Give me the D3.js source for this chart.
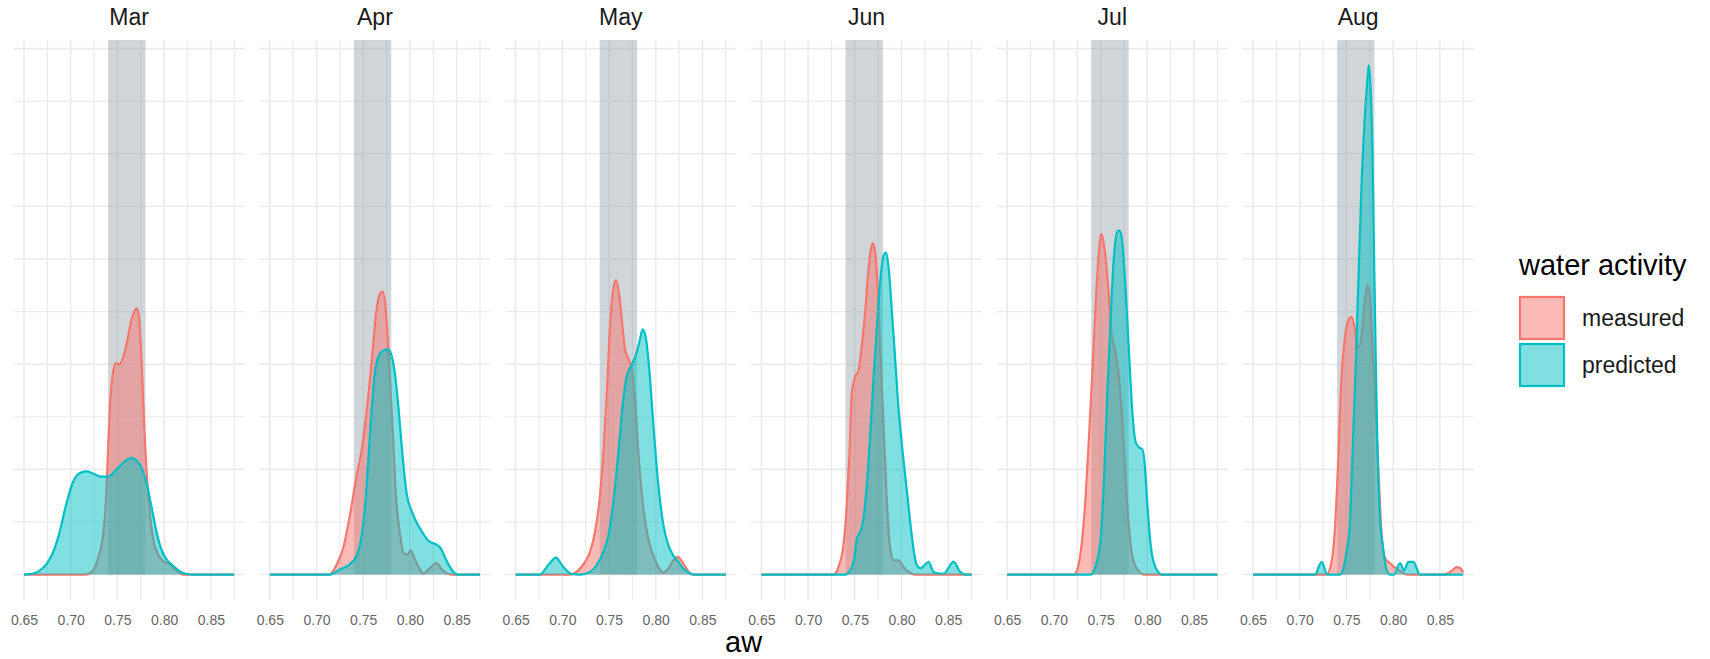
<!DOCTYPE html>
<html>
<head>
<meta charset="utf-8">
<script src="https://cdn.jsdelivr.net/npm/d3@7/dist/d3.min.js"></script>
<style>
  body { margin: 0; background: #fff; }
  text { font-family: "Liberation Sans", Arial, sans-serif; }
  .axis-x .domain, .axis-x line { display: none; }
  .axis-x text { fill: #666666; font-size: 14px; font-family: "Liberation Sans", Arial, sans-serif; }
</style>
</head>
<body>
<svg id="wrapper" width="1710" height="659"></svg>
<script>
/*jshint esversion: 6 */

const months = ['Mar', 'Apr', 'May', 'Jun', 'Jul', 'Aug'];
const seriesNames = ['measured', 'predicted'];
const seriesColors = ['#F8766D', '#00BFC4'];
const awRange = [0.65, 0.875];
const awTicks = [0.65, 0.70, 0.75, 0.80, 0.85];
const awMinorTicks = [0.675, 0.725, 0.775, 0.825, 0.875];
const densityGrid = [0, 5, 10, 15, 20, 25, 30, 35, 40, 45, 50];
const targetBand = [0.74, 0.78];

// density curves: [aw, density]
const marMeasured = [[0.65,0],[0.716,0],[0.724,0.4],[0.730,1.8],[0.735,4],[0.738,7.5],[0.740,12],[0.742,16],[0.745,19],[0.748,20.1],[0.752,20],[0.756,20.6],[0.760,22],[0.765,24.2],[0.7705,25.3],[0.773,24.5],[0.776,20],[0.779,13.5],[0.783,7.5],[0.788,3.5],[0.795,1.7],[0.800,1.2],[0.806,1.0],[0.812,0.5],[0.820,0],[0.875,0]];
const marPredicted = [[0.65,0],[0.66,0.1],[0.667,0.4],[0.674,1.0],[0.681,2.1],[0.688,4.0],[0.695,6.6],[0.702,8.7],[0.709,9.6],[0.717,9.8],[0.724,9.6],[0.733,9.3],[0.740,9.3],[0.748,9.9],[0.757,10.7],[0.765,11.1],[0.771,10.8],[0.777,9.9],[0.782,8.4],[0.787,6.2],[0.792,4.0],[0.797,2.4],[0.803,1.4],[0.810,0.8],[0.816,0.35],[0.822,0.1],[0.830,0],[0.875,0]];
const aprMeasured = [[0.65,0],[0.714,0],[0.7218,1.0],[0.7285,2.5],[0.7355,5.5],[0.7425,9.2],[0.7486,12],[0.754,15.8],[0.759,20.2],[0.764,25],[0.7675,26.6],[0.771,26.9],[0.7746,24.7],[0.778,19.6],[0.7818,13.2],[0.785,7.5],[0.7896,3.7],[0.7935,2.0],[0.7975,1.9],[0.8008,2.3],[0.805,1.5],[0.810,0.6],[0.8144,0.1],[0.820,0.5],[0.8287,1.1],[0.834,0.5],[0.8394,0.1],[0.845,0],[0.875,0]];
const aprPredicted = [[0.65,0],[0.714,0],[0.7252,0.5],[0.7359,1.0],[0.743,1.8],[0.748,3.5],[0.752,6.5],[0.7555,11],[0.7585,15],[0.762,18.8],[0.767,20.9],[0.7717,21.3],[0.7765,21.4],[0.7807,20.7],[0.7842,18.9],[0.7878,15.8],[0.7914,12],[0.7967,7.6],[0.802,6.0],[0.8075,4.9],[0.8128,4.1],[0.820,3.2],[0.827,2.9],[0.8325,2.55],[0.8378,1.6],[0.843,0.7],[0.8485,0.1],[0.852,0],[0.875,0]];
const mayMeasured = [[0.65,0],[0.708,0],[0.717,0.4],[0.7243,1.2],[0.7296,2.15],[0.735,4.05],[0.7396,6.9],[0.744,11.6],[0.7475,17],[0.751,23.4],[0.7546,27.2],[0.7575,28],[0.761,26.5],[0.7646,23.4],[0.767,21.5],[0.7707,20.5],[0.7742,19.6],[0.778,16.4],[0.7814,11.6],[0.7868,6.3],[0.792,3.4],[0.7975,1.8],[0.8028,0.73],[0.808,0.2],[0.8135,0.57],[0.819,1.36],[0.8235,1.68],[0.8296,1.04],[0.835,0.3],[0.8403,0],[0.875,0]];
const mayPredicted = [[0.65,0],[0.676,0],[0.685,0.9],[0.6932,1.6],[0.701,0.73],[0.710,0.06],[0.719,0],[0.7296,0.25],[0.7368,0.9],[0.744,2.15],[0.7493,3.7],[0.7546,6.9],[0.760,11.6],[0.7646,16.1],[0.769,18.9],[0.7742,19.9],[0.7796,21.1],[0.7832,22.4],[0.786,23.3],[0.7896,22.4],[0.793,19.6],[0.7975,14.2],[0.8028,8.5],[0.8082,4.7],[0.8135,2.8],[0.8189,1.8],[0.8243,1.2],[0.8296,0.57],[0.835,0.2],[0.8403,0],[0.875,0]];
const junMeasured = [[0.65,0],[0.727,0],[0.7325,0.73],[0.7378,2.8],[0.7414,6.6],[0.7443,11.6],[0.7468,17.3],[0.7503,18.8],[0.7539,19.4],[0.7575,21.8],[0.761,24.9],[0.7646,29],[0.7671,30.9],[0.7692,31.5],[0.7718,30.6],[0.7743,27.5],[0.7771,21.8],[0.7807,14.2],[0.7843,6.9],[0.7878,2.5],[0.7914,1.36],[0.7967,1.36],[0.8021,0.73],[0.8075,0.25],[0.8146,0],[0.875,0]];
const junPredicted = [[0.65,0],[0.7396,0],[0.745,0.4],[0.7493,1.5],[0.7521,3.4],[0.7557,4.05],[0.7593,5.3],[0.7628,8.5],[0.7664,13.2],[0.770,18.6],[0.7735,23.4],[0.7771,27.8],[0.7807,30.3],[0.7835,30.6],[0.7864,29],[0.7893,25.5],[0.7928,21],[0.7964,16.2],[0.8014,11.5],[0.8064,7.4],[0.8111,3.6],[0.8139,1.8],[0.8164,0.9],[0.8207,0.6],[0.8235,0.8],[0.8289,1.2],[0.8343,0.25],[0.8396,0.1],[0.845,0.1],[0.8557,1.2],[0.8628,0.25],[0.868,0],[0.875,0]];
const julMeasured = [[0.65,0],[0.7214,0],[0.7268,1.1],[0.7304,3.5],[0.734,7.5],[0.7375,13],[0.741,19],[0.7446,25.5],[0.748,30.5],[0.7507,32.4],[0.7543,30.9],[0.7579,27.6],[0.7614,23.1],[0.7661,21.1],[0.7696,18.8],[0.7732,14.6],[0.7768,9.0],[0.7804,4.4],[0.7839,1.8],[0.7893,0.5],[0.7964,0],[0.875,0]];
const julPredicted = [[0.65,0],[0.7393,0],[0.7446,0.8],[0.750,3.4],[0.7536,9.0],[0.7571,17.2],[0.7607,24.4],[0.7643,30.3],[0.7679,32.6],[0.7704,32.7],[0.7732,31.6],[0.7768,27],[0.7804,21.1],[0.7839,15.5],[0.7875,12.6],[0.791,12.1],[0.7946,11.9],[0.7971,10.6],[0.800,6.7],[0.8036,2.8],[0.8089,0.65],[0.816,0],[0.875,0]];
const augMeasured = [[0.65,0],[0.7286,0],[0.734,1.15],[0.7375,4.1],[0.7411,10.6],[0.7446,18.5],[0.7482,22.4],[0.7518,24.1],[0.7554,24.5],[0.7589,23.4],[0.7625,21.5],[0.766,22.5],[0.7695,25.8],[0.7725,27.5],[0.7752,26.5],[0.7768,23.7],[0.7804,17.2],[0.7839,10.6],[0.7875,4.1],[0.791,1.6],[0.7964,1.1],[0.803,0.6],[0.810,0.2],[0.815,0],[0.855,0],[0.862,0.3],[0.868,0.7],[0.872,0.6],[0.875,0.2]];
const augPredicted = [[0.65,0],[0.7163,0],[0.7235,1.2],[0.7295,0],[0.743,0],[0.747,0.7],[0.7505,2.4],[0.7535,4.5],[0.7555,9],[0.7589,17.2],[0.7625,27],[0.7661,36.8],[0.7696,43.4],[0.7721,46.6],[0.7739,48.4],[0.7757,46.6],[0.7779,40.1],[0.7796,30.3],[0.7814,20.5],[0.7832,12.3],[0.7857,5.7],[0.7893,2.5],[0.7929,0.5],[0.7964,0],[0.801,0],[0.8074,1.1],[0.8117,0.4],[0.8163,1.2],[0.8216,1.2],[0.8288,0],[0.875,0]];

const measured = [marMeasured, aprMeasured, mayMeasured, junMeasured, julMeasured, augMeasured];
const predicted = [marPredicted, aprPredicted, mayPredicted, junPredicted, julPredicted, augPredicted];

const margin = {top: 40, left: 13.5, bottom: 59};
const panelWidth = 231.2, panelStep = 245.8;
const panelBottom = 659 - margin.bottom;

function facets() {

    let svg = d3.select('#wrapper');

    svg.append('rect')
      .attr('width', 1710)
      .attr('height', 659)
      .attr('fill', 'white');

    // shared y scale, 5% expansion like ggplot
    let yMax = d3.max(measured.concat(predicted), function(s) {
      return d3.max(s, function(d) { return d[1]; });
    });
    let y = d3.scaleLinear()
      .domain([-0.05 * yMax, 1.05 * yMax])
      .range([panelBottom, margin.top]);

    let span = awRange[1] - awRange[0];

    months.forEach(function(month, i) {

      let left = margin.left + i * panelStep;
      let x = d3.scaleLinear()
        .domain([awRange[0] - 0.05 * span, awRange[1] + 0.05 * span])
        .range([left, left + panelWidth]);

      let g = svg.append('g').attr('class', 'panel');

      // grid lines
      g.selectAll('.grid-h')
        .data(densityGrid.filter(function(d) { return y(d) >= margin.top; }))
        .enter().append('line')
        .attr('x1', left)
        .attr('x2', left + panelWidth)
        .attr('y1', function(d) { return y(d); })
        .attr('y2', function(d) { return y(d); })
        .attr('stroke', '#ebebeb')
        .attr('stroke-width', function(d) { return d % 10 === 0 ? 1.6 : 1.2; });

      g.selectAll('.grid-v')
        .data(awTicks.concat(awMinorTicks))
        .enter().append('line')
        .attr('x1', function(d) { return x(d); })
        .attr('x2', function(d) { return x(d); })
        .attr('y1', margin.top)
        .attr('y2', panelBottom)
        .attr('stroke', '#ebebeb')
        .attr('stroke-width', function(d) { return awTicks.indexOf(d) > -1 ? 1.6 : 1.2; });

      // target range band
      g.append('rect')
        .attr('x', x(targetBand[0]))
        .attr('y', margin.top)
        .attr('width', x(targetBand[1]) - x(targetBand[0]))
        .attr('height', y(0) - margin.top)
        .attr('fill', '#8c9ba5')
        .attr('fill-opacity', 0.42);

      let area = d3.area()
        .curve(d3.curveMonotoneX)
        .x(function(d) { return x(d[0]); })
        .y0(y(0))
        .y1(function(d) { return y(d[1]); });

      let line = d3.line()
        .curve(d3.curveMonotoneX)
        .x(function(d) { return x(d[0]); })
        .y(function(d) { return y(d[1]); });

      [measured[i], predicted[i]].forEach(function(series, k) {
        g.append('path')
          .datum(series)
          .attr('d', area)
          .attr('fill', seriesColors[k])
          .attr('fill-opacity', 0.5);
        g.append('path')
          .datum(series)
          .attr('d', line)
          .attr('fill', 'none')
          .attr('stroke', seriesColors[k])
          .attr('stroke-width', 2.2)
          .attr('stroke-linejoin', 'round');
      });

      // draw x-axis
      g.append('g')
        .attr('class', 'axis axis-x')
        .attr('transform', 'translate(0,' + panelBottom + ')')
        .call(d3.axisBottom(x)
          .tickValues(awTicks)
          .tickSize(0)
          .tickPadding(15)
          .tickFormat(d3.format('.2f')));

      // strip label
      g.append('text')
        .attr('x', left + panelWidth / 2)
        .attr('y', 25)
        .attr('text-anchor', 'middle')
        .attr('fill', '#1a1a1a')
        .style('font-size', '23px')
        .text(month);
    });

    // x-axis title
    svg.append('text')
      .attr('x', margin.left + (months.length - 1) * panelStep / 2 + panelWidth / 2)
      .attr('y', 652)
      .attr('text-anchor', 'middle')
      .attr('fill', 'black')
      .style('font-size', '29px')
      .text('aw');

    // draw legend
    let legend = svg.append('g')
      .attr('class', 'legend')
      .attr('transform', 'translate(1519,0)');
    legend.append('text')
      .attr('x', 0)
      .attr('y', 275)
      .attr('fill', 'black')
      .style('font-size', '29px')
      .text('water activity');
    seriesNames.forEach(function(name, k) {
      legend.append('rect')
        .attr('x', 1)
        .attr('y', 297 + k * 47)
        .attr('width', 44)
        .attr('height', 42)
        .attr('fill', seriesColors[k])
        .attr('fill-opacity', 0.5)
        .attr('stroke', seriesColors[k])
        .attr('stroke-width', 2.2);
      legend.append('text')
        .attr('x', 63)
        .attr('y', 318 + k * 47)
        .attr('dy', '0.35em')
        .attr('fill', '#1a1a1a')
        .style('font-size', '23px')
        .text(name);
    });
}

facets();
</script>
</body>
</html>
